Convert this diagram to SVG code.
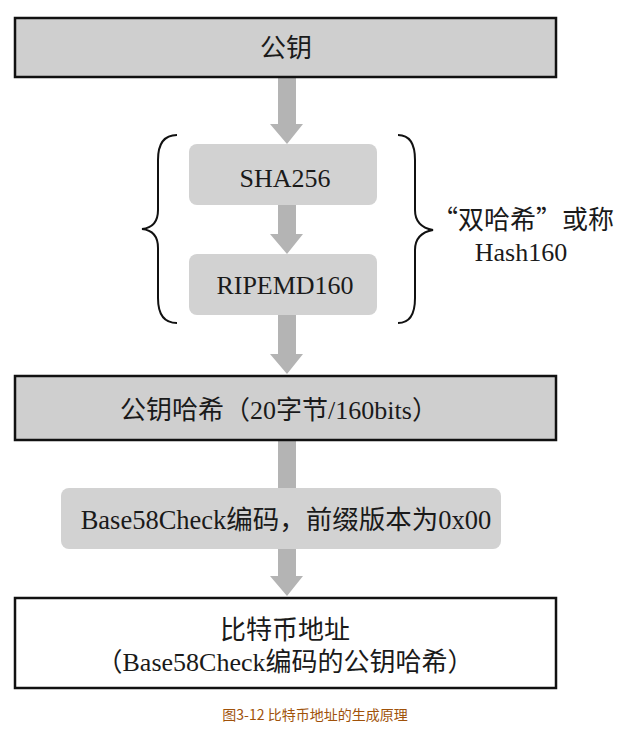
<svg xmlns="http://www.w3.org/2000/svg" width="628" height="729" viewBox="0 0 628 729">
<defs>
<style>
.t{font-family:"Liberation Serif","Noto Sans CJK SC",serif;font-size:26px;fill:#1a1a1a;text-anchor:middle}
.q{font-family:"Noto Sans CJK SC",sans-serif}
.box{fill:#cfcfcf;stroke:#111;stroke-width:2.5}
.rbox{fill:#d2d2d2;stroke:none}
.arr{fill:#b4b4b4}
.brace{fill:none;stroke:#111;stroke-width:2}
.cap{font-family:"Noto Sans CJK SC",sans-serif;font-size:14px;fill:#a0520a;text-anchor:middle}
</style>
</defs>
<g id="connectors">
<path class="arr" d="M278,78 H296 V124 H303 L287,144 L270,124 H278 Z"/>
<path class="arr" d="M278,205 H296 V234 H303 L287,254 L270,234 H278 Z"/>
<path class="arr" d="M278,315 H296 V354 H303 L287,374 L270,354 H278 Z"/>
<path class="arr" d="M278,440 H296 V490 H278 Z"/>
<path class="arr" d="M278,548 H296 V576 H303 L287,596 L270,576 H278 Z"/>
</g>
<g id="braces">
<path class="brace" d="M177,135 C163,135 158,145 158,160 V210 C158,222 152,228 142,229 C152,230 158,236 158,248 V298 C158,313 163,323 177,323"/>
<path class="brace" d="M398,135 C411,135 415,145 415,160 V210 C415,222 422,228 433,230 C422,232 415,238 415,250 V298 C415,313 411,323 398,323"/>
</g>
<g id="pubkey">
<rect class="box" x="15" y="18" width="541" height="59"/>
<text class="t" x="286" y="57">公钥</text>
</g>
<g id="sha256">
<rect class="rbox" x="189" y="144" width="188" height="61" rx="8"/>
<text class="t" x="285" y="187">SHA256</text>
</g>
<g id="ripemd160">
<rect class="rbox" x="189" y="254" width="188" height="61" rx="8"/>
<text class="t" x="285" y="294">RIPEMD160</text>
</g>
<g id="hash160-label">
<text class="t" x="523" y="229"><tspan class="q">“</tspan>双哈希<tspan class="q">”</tspan>或称</text>
<text class="t" x="521" y="261">Hash160</text>
</g>
<g id="pubkeyhash">
<rect class="box" x="15" y="376" width="541" height="64"/>
<text class="t" x="279" y="419">公钥哈希（20字节/160bits）</text>
</g>
<g id="base58">
<rect class="rbox" x="61" y="488" width="440" height="61" rx="8"/>
<text class="t" x="286" y="529" style="font-size:26.5px">Base58Check编码，前缀版本为0x00</text>
</g>
<g id="address">
<rect x="15" y="598" width="541" height="90" fill="#fff" stroke="#111" stroke-width="2.5"/>
<text class="t" x="285" y="639">比特币地址</text>
<text class="t" x="285" y="671">（Base58Check编码的公钥哈希）</text>
</g>
<text class="cap" x="315" y="720">图3-12 比特币地址的生成原理</text>
</svg>
